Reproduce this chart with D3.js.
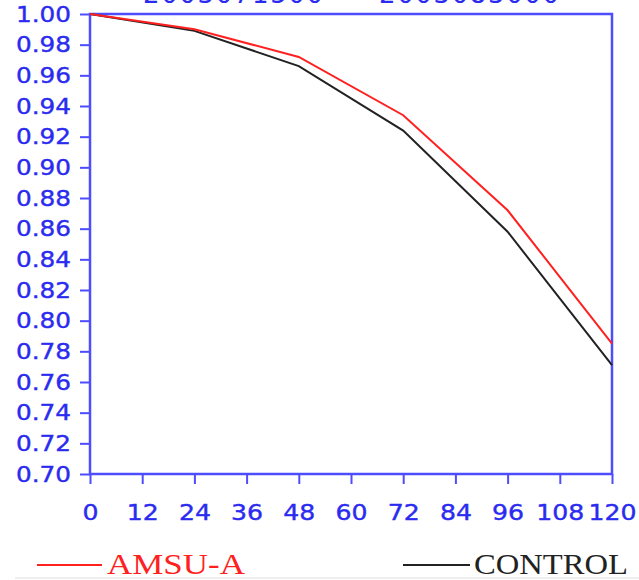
<!DOCTYPE html>
<html lang="en">
<head>
<meta charset="UTF-8">
<title>AMSU-A vs CONTROL</title>
<script src="https://d3js.org/d3.v7.min.js"></script>
<style>
  body { margin: 0; background: #fff; }
</style>
</head>
<body>
<svg id="chart" width="639" height="580"></svg>
<script>
  // forecast hours and scores
  var hours = [0, 24, 48, 72, 96, 120];
  var amsuA = [1.000, 0.990, 0.972, 0.934, 0.872, 0.785];
  var control = [1.000, 0.989, 0.966, 0.924, 0.858, 0.771];
  var xTicks = [0, 12, 24, 36, 48, 60, 72, 84, 96, 108, 120];
  var yTicks = d3.range(0.70, 1.0001, 0.02);
  var titles = ["2003071500", "2003083000"];

  var blue = "#4d4dff", labelBlue = "#2b2bf0";
  var svg = d3.select("#chart");

  var x = d3.scaleLinear().domain([0, 120]).range([90, 612]);
  var y = d3.scaleLinear().domain([0.70, 1.00]).range([474, 14]);

  // rough width of a tick label: wide digits, narrow dot
  function labelWidth(s) {
    return s.split("").reduce((w, c) => w + (c == "." ? 7 : 16), 0);
  }

  // title, clipped by the top edge as in the original
  svg.selectAll(".title")
    .data(titles)
    .join("text")
    .attr("x", (d, i) => i == 0 ? 143 : 379)
    .attr("y", 3)
    .attr("font-family", "DejaVu Sans")
    .attr("font-size", "26px")
    .attr("fill", labelBlue)
    .attr("textLength", 180)
    .text(d => d);

  // frame
  svg.append("rect")
    .attr("x", x(0)).attr("y", y(1))
    .attr("width", x(120) - x(0)).attr("height", y(0.70) - y(1))
    .attr("fill", "none")
    .attr("stroke", blue)
    .attr("stroke-width", 2.5);

  var yAxis = d3.axisLeft(y)
    .tickValues(yTicks)
    .tickSize(10)
    .tickPadding(9)
    .tickFormat(d3.format(".2f"));

  var xAxis = d3.axisBottom(x)
    .tickValues(xTicks)
    .tickSize(10)
    .tickPadding(20)
    .tickFormat(d3.format("d"));

  [svg.append("g").attr("transform", "translate(" + x(0) + ",0)").call(yAxis),
   svg.append("g").attr("transform", "translate(0," + y(0.70) + ")").call(xAxis)]
    .forEach(function(g) {
      g.select(".domain").remove();
      g.selectAll("line").attr("stroke", blue).attr("stroke-width", 2);
      g.selectAll("text")
        .attr("fill", labelBlue)
        .attr("font-family", "DejaVu Sans")
        .attr("font-size", "22px")
        .attr("stroke", labelBlue)
        .attr("stroke-width", 0.4)
        .attr("lengthAdjust", "spacingAndGlyphs")
        .attr("textLength", function() { return labelWidth(this.textContent); });
    });

  var line = d3.line()
    .x((d, i) => x(hours[i]))
    .y(d => y(d));

  svg.append("path")
    .attr("d", line(control))
    .attr("fill", "none")
    .attr("stroke", "#222")
    .attr("stroke-width", 2);

  svg.append("path")
    .attr("d", line(amsuA))
    .attr("fill", "none")
    .attr("stroke", "#ff2020")
    .attr("stroke-width", 2);

  // legend
  var legend = [
    {name: "AMSU-A", color: "#ff2020", x0: 37, x1: 102, tx: 107, w: 138},
    {name: "CONTROL", color: "#222", x0: 403, x1: 470, tx: 474, w: 154}
  ];
  svg.selectAll(".leg-line")
    .data(legend)
    .join("line")
    .attr("x1", d => d.x0).attr("x2", d => d.x1)
    .attr("y1", 565).attr("y2", 565)
    .attr("stroke", d => d.color)
    .attr("stroke-width", 2);
  svg.selectAll(".leg-text")
    .data(legend)
    .join("text")
    .attr("x", d => d.tx)
    .attr("y", 574)
    .attr("font-family", "Liberation Serif")
    .attr("font-size", "30px")
    .attr("fill", d => d.color)
    .attr("lengthAdjust", "spacingAndGlyphs")
    .attr("textLength", d => d.w)
    .text(d => d.name);

  svg.append("line")
    .attr("x1", 15).attr("x2", 639)
    .attr("y1", 578).attr("y2", 578)
    .attr("stroke", "#ddd")
    .attr("stroke-width", 1);
</script>
</body>
</html>
